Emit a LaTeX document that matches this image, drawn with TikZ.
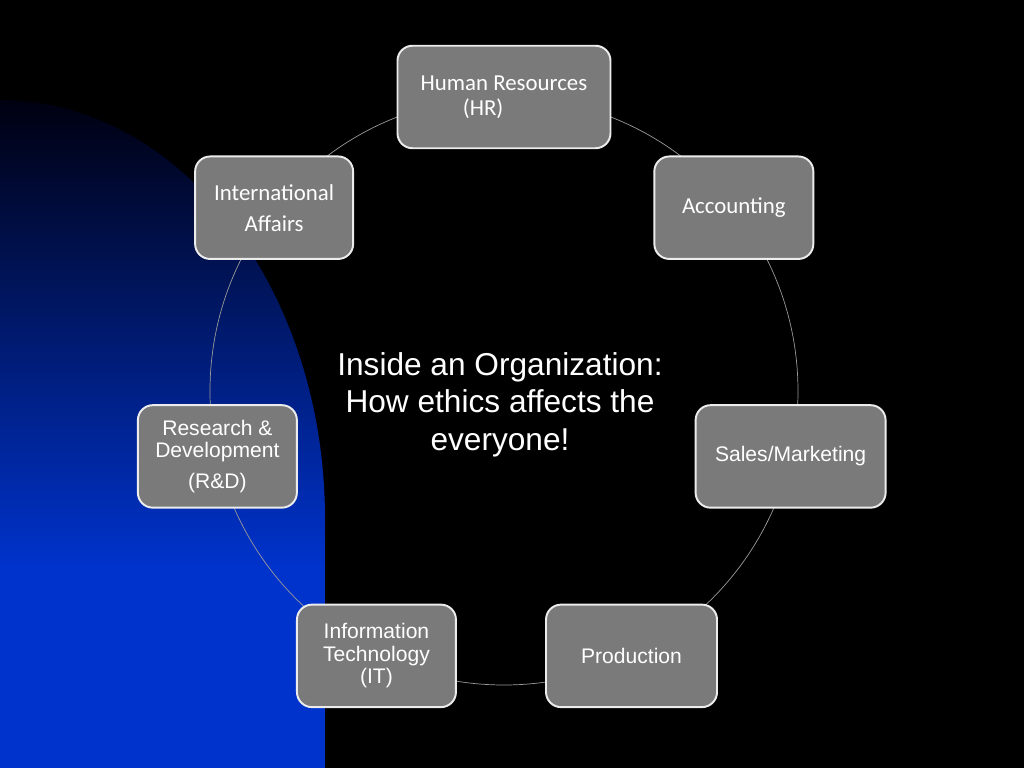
\documentclass[tikz,border=0pt]{standalone}
\usepackage{fontspec}
\setmainfont{Liberation Sans}
\newfontfamily\calib{Carlito}
\usepackage{tikz}
\usetikzlibrary{positioning,calc}
\definecolor{boxgray}{RGB}{122,122,122}
\definecolor{navytop}{RGB}{0,0,16}
\definecolor{deepblue}{RGB}{0,51,204}
\pgfdeclareverticalshading{sidefade}{100bp}{color(0bp)=(deepblue); color(40bp)=(deepblue); color(75bp)=(navytop); color(100bp)=(navytop)}
\tikzstyle{gb}=[rectangle,rounded corners=0.3cm,draw=white!85!gray,line width=1.1pt,fill=boxgray,text=white,align=center,minimum height=2.05cm,inner sep=2pt]
\tikzstyle{cal}=[font={\calib\fontsize{13}{14.2}\selectfont}]
\tikzstyle{ari}=[font={\fontsize{12}{12.8}\selectfont}]
\tikzstyle{ring}=[draw=gray!80,line width=0.4pt]
\tikzstyle{ttl}=[text=white,align=center,font=\fontsize{18}{21.3}\selectfont]

\begin{document}
\begin{tikzpicture}
    \fill[black] (-10.08,-7.54) rectangle (10.4,7.82);
    \useasboundingbox (-10.08,-7.54) rectangle (10.4,7.82);
    % blue side panel
    \shade[shading=sidefade] (-10.08,5.82) arc (90:0:6.5 and 8.38) -- (-3.58,-7.54) -- (-10.08,-7.54) -- cycle;
    \draw[ring] (0,0) circle (5.88);

    \node (hr) [gb,cal,minimum width=4.26cm,align=left] at (90:5.88) {Human Resources\\\hspace*{24pt}(HR)};
    \node (acc) [gb,cal,minimum width=3.18cm] at (38.57:5.88) {Accounting};
    \node (sales) [gb,ari,minimum width=3.8cm] at (-12.86:5.88) {Sales/Marketing};
    \node (prod) [gb,ari,minimum width=3.42cm] at (-64.29:5.88) {Production};
    \node (it) [gb,ari,minimum width=3.18cm] at (-115.71:5.88) {Information\\Technology\\(IT)};
    \node (rd) [gb,ari,font={\fontsize{12}{12.5}\selectfont},minimum width=3.18cm] at (-167.14:5.88) {Research \&\\Development\\[5.5pt](R\&D)};
    \node (intl) [gb,cal,font={\calib\fontsize{13}{17.6}\selectfont},minimum width=3.16cm] at (141.43:5.88) {International\\Affairs};

    \node (title) [ttl] at (-0.08,-0.27) {Inside an Organization:\\How ethics affects the\\everyone!};
\end{tikzpicture}
\end{document}
